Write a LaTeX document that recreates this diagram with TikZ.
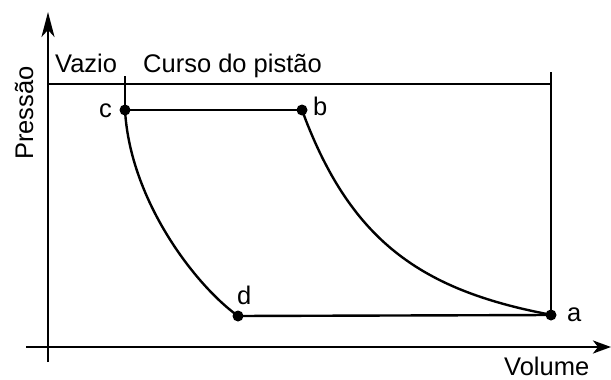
\documentclass[tikz,border=0pt]{standalone}
\usepackage{fontspec}
\setmainfont{Liberation Sans}
\usetikzlibrary{arrows.meta}
\begin{document}
\begin{tikzpicture}[x=1pt,y=-1pt,
  lbl/.style={inner sep=0pt,anchor=base west,font=\fontsize{25.5}{29}\selectfont},
  axis/.style={line width=2.6pt},
  thin/.style={line width=1.3pt},
  cyc/.style={line width=2.4pt},
  pt/.style={circle,fill=black,inner sep=0pt,minimum size=11pt}]
\useasboundingbox (0,0) rectangle (611,380);
% axes
\coordinate (yb) at (48,362);
\coordinate (yt) at (48,12);
\coordinate (xl) at (26,347);
\coordinate (xr) at (611,347);
\draw[axis,-{Stealth[length=25pt,width=13pt,inset=7pt]}] (yb) -- (yt);
\draw[axis,-{Stealth[length=18pt,width=13pt,inset=5pt]}] (xl) -- (xr);
% points
\node[pt] (c) at (125,110) {};
\node[pt] (b) at (302,110) {};
\node[pt] (d) at (238,316) {};
\node[pt] (a) at (551,315) {};
% stroke lines
\coordinate (tl) at (48,84);
\coordinate (tr) at (551,84);
\coordinate (ct) at (125,76);
\coordinate (at) at (551,72);
\draw[thin] (tl) -- (tr);
\draw[thin] (ct) -- (c.center);
\draw[thin] (at) -- (a.center);
% cycle
\draw[cyc] (c.center) -- (b.center);
\draw[cyc] (d.center) -- (a.center);
\draw[cyc] (c.center) .. controls (130,200) and (195,285) .. (d.center);
\draw[cyc,smooth,samples=60,domain=254:503] plot ({48+\x},{347-237*(254/\x)^2.92});
% labels
\node[lbl] (vazio) at (55,72) {Vazio};
\node[lbl] (curso) at (143,72) {Curso do pistão};
\node[lbl] (lc) at (99,117) {c};
\node[lbl] (lb) at (313,115) {b};
\node[lbl] (ld) at (237,304) {d};
\node[lbl] (la) at (567,321) {a};
\node[lbl] (vol) at (504,375) {Volume};
\node[lbl,rotate=90] (pres) at (33,160) {Pressão};
\end{tikzpicture}
\end{document}
